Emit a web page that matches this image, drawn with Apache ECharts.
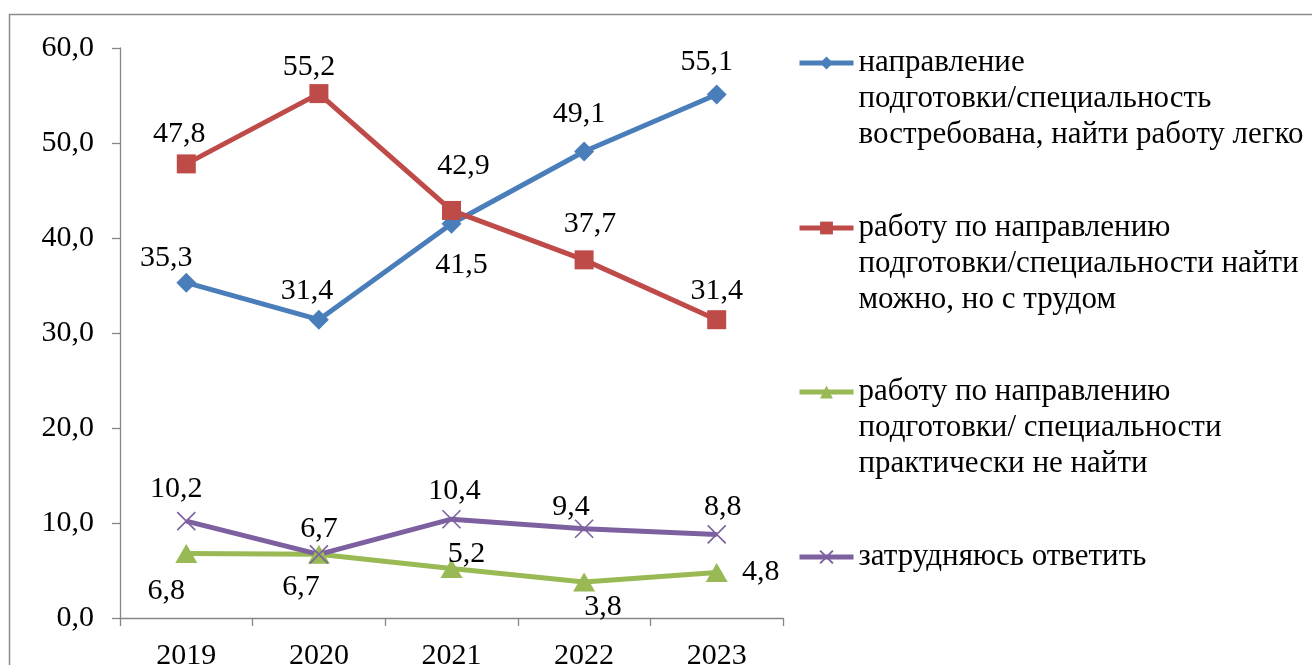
<!DOCTYPE html>
<html>
<head>
<meta charset="utf-8">
<script src="https://cdn.jsdelivr.net/npm/echarts@6/dist/echarts.min.js"></script>
<style>
html,body{margin:0;padding:0;background:#fff;}
#chart{width:1312px;height:665px;}
</style>
</head>
<body>
<div id="chart"></div>
<script>
const categories = ['2019', '2020', '2021', '2022', '2023'];
const seriesNames = [
  'направление\nподготовки/специальность\nвостребована, найти работу легко',
  'работу по направлению\nподготовки/специальности найти\nможно, но с трудом',
  'работу по направлению\nподготовки/ специальности\nпрактически не найти',
  'затрудняюсь ответить'
];
const easyValues = [35.3, 31.4, 41.5, 49.1, 55.1];
const hardValues = [47.8, 55.2, 42.9, 37.7, 31.4];
const noneValues = [6.8, 6.7, 5.2, 3.8, 4.8];
const unsureValues = [10.2, 6.7, 10.4, 9.4, 8.8];
const yTicks = { min: 0, max: 60, interval: 10 };

// label placement (offsets of label centre from the point)
const labelOffsets = [
  [[-20,-25],[-12,-29],[10,41],[-5,-37],[-10,-32]],
  [[-7,-30],[-10,-26],[12,-44],[6,-36],[0,-29]],
  [[-20,38],[-18,33],[15,-14],[19,25],[44,0]],
  [[-10,-32],[0,-25],[3,-28],[-13,-22],[6,-27]]
];
const colors = ['#4A7EBB', '#BE4B48', '#98B954', '#7D60A0'];
const symbols = ['diamond', 'rect', 'triangle', 'path://M0,0L10,10M10,0L0,10'];
const symbolSizes = [20, 19, [22, 19], 18];
const FONT = 'Liberation Serif, Times New Roman, serif';
const FS = 30;
const LEGEND_FS = 31;

const valuesList = [easyValues, hardValues, noneValues, unsureValues];

const series = valuesList.map((vals, si) => ({
  name: seriesNames[si],
  type: 'line',
  data: vals.map((v, i) => ({
    value: v,
    label: { offset: labelOffsets[si][i] }
  })),
  symbol: symbols[si],
  symbolSize: symbolSizes[si],
  lineStyle: { color: colors[si], width: 5 },
  itemStyle: si === 3
    ? { color: colors[si], borderColor: colors[si], borderWidth: 1.6 }
    : { color: colors[si], borderWidth: 0 },
  label: {
    show: true,
    position: 'inside',
    color: '#000',
    fontFamily: FONT,
    fontSize: FS,
    formatter: p => p.value.toFixed(1).replace('.', ',')
  },
  emphasis: { disabled: true },
  animation: false
}));

const symbolCenters = [63, 228, 392, 557];
const LH = 36;
const legends = seriesNames.map((n, i) => {
  const lines = n.split('\n').length;
  const blockH = (2 * lines - 1) * LH;
  return {
    data: [n],
    left: 792,
    top: symbolCenters[i] - blockH / 2 - 5,
    orient: 'vertical',
    itemWidth: 54,
    itemHeight: 16,
    selectedMode: false,
    lineStyle: { width: 5 },
    formatter: name => '\n'.repeat(name.split('\n').length - 1) + name,
    textStyle: {
      fontFamily: FONT,
      fontSize: LEGEND_FS,
      color: '#000',
      lineHeight: LH
    }
  };
});

const chart = echarts.init(document.getElementById('chart'), null, { renderer: 'canvas' });
chart.setOption({
  animation: false,
  backgroundColor: '#fff',
  graphic: [{
    type: 'rect',
    shape: { x: 9.5, y: 14.5, width: 1500, height: 900 },
    style: { fill: 'none', stroke: '#8c8c8c', lineWidth: 1.5 },
    silent: true
  }],
  grid: { left: 120, right: 529, top: 48, bottom: 47, containLabel: false, outerBoundsMode: 'none' },
  legend: legends,
  xAxis: {
    type: 'category',
    data: categories,
    boundaryGap: true,
    axisLine: { lineStyle: { color: '#868686', width: 1.3 } },
    axisTick: { show: true, length: 8, lineStyle: { color: '#868686', width: 1.3 } },
    axisLabel: { color: '#000', fontFamily: FONT, fontSize: FS, margin: 23 },
    splitLine: { show: false }
  },
  yAxis: {
    type: 'value',
    min: yTicks.min,
    max: yTicks.max,
    interval: yTicks.interval,
    axisLine: { show: true, lineStyle: { color: '#868686', width: 1.3 } },
    axisTick: { show: true, length: 8, lineStyle: { color: '#868686', width: 1.3 } },
    axisLabel: {
      color: '#000', fontFamily: FONT, fontSize: FS, margin: 26,
      formatter: v => v.toFixed(1).replace('.', ',')
    },
    splitLine: { show: false }
  },
  series: series
});
</script>
</body>
</html>
